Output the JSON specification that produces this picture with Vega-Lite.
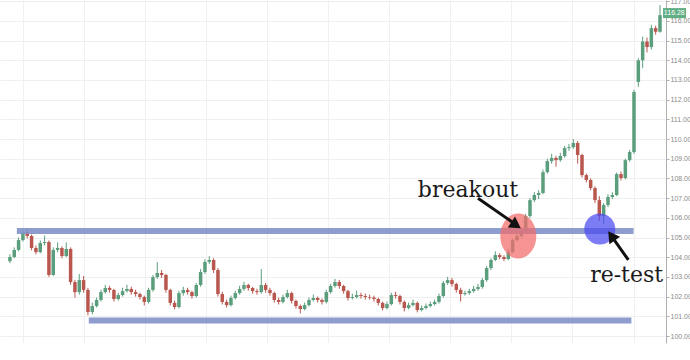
{
  "$schema": "https://vega.github.io/schema/vega-lite/v6.json",
  "width": 666,
  "height": 343,
  "autosize": {"type": "none"},
  "padding": {"left": 0, "top": 0, "right": 24, "bottom": 17},
  "background": "white",
  "config": {
    "view": {"stroke": null},
    "axisX": {"title": null, "labels": false, "ticks": false, "domain": false, "grid": true, "gridColor": "#f0f0f0"},
    "axisY": {"title": null, "labelOverlap": false, "labelFlush": false, "labelBound": false, "labelFontSize": 7, "labelColor": "#8a8a8a", "labelFont": "Liberation Sans", "labelPadding": 1, "tickSize": 3, "tickColor": "#b0b0b0", "domainColor": "#b0b0b0", "grid": true, "gridColor": "#efefef"}
  },
  "datasets": {
    "candles": [
      {"i":0,"o":103.80,"h":104.15,"l":103.70,"c":104.01},
      {"i":1,"o":104.01,"h":104.50,"l":103.95,"c":104.37},
      {"i":2,"o":104.37,"h":105.00,"l":104.30,"c":104.87},
      {"i":3,"o":104.87,"h":105.40,"l":104.80,"c":105.28},
      {"i":4,"o":105.28,"h":105.45,"l":104.95,"c":105.08},
      {"i":5,"o":105.08,"h":105.15,"l":104.35,"c":104.47},
      {"i":6,"o":104.47,"h":104.60,"l":104.15,"c":104.26},
      {"i":7,"o":104.26,"h":104.85,"l":104.20,"c":104.72},
      {"i":8,"o":104.72,"h":105.10,"l":104.60,"c":104.77},
      {"i":9,"o":104.77,"h":104.85,"l":103.00,"c":103.10},
      {"i":10,"o":103.10,"h":104.50,"l":103.05,"c":104.37},
      {"i":11,"o":104.37,"h":104.75,"l":104.25,"c":104.47},
      {"i":12,"o":104.47,"h":104.55,"l":103.95,"c":104.06},
      {"i":13,"o":104.06,"h":104.75,"l":104.00,"c":104.42},
      {"i":14,"o":104.42,"h":104.50,"l":102.60,"c":102.74},
      {"i":15,"o":102.74,"h":102.85,"l":101.95,"c":102.23},
      {"i":16,"o":102.23,"h":103.15,"l":102.10,"c":102.84},
      {"i":17,"o":102.84,"h":103.05,"l":102.20,"c":102.34},
      {"i":18,"o":102.34,"h":102.45,"l":101.05,"c":101.22},
      {"i":19,"o":101.22,"h":101.70,"l":101.10,"c":101.52},
      {"i":20,"o":101.52,"h":101.95,"l":101.45,"c":101.83},
      {"i":21,"o":101.83,"h":102.35,"l":101.75,"c":102.23},
      {"i":22,"o":102.23,"h":102.60,"l":102.15,"c":102.44},
      {"i":23,"o":102.44,"h":102.55,"l":102.20,"c":102.34},
      {"i":24,"o":102.34,"h":102.40,"l":101.75,"c":101.88},
      {"i":25,"o":101.88,"h":102.20,"l":101.80,"c":102.08},
      {"i":26,"o":102.08,"h":102.45,"l":102.00,"c":102.28},
      {"i":27,"o":102.28,"h":102.60,"l":102.20,"c":102.39},
      {"i":28,"o":102.39,"h":102.50,"l":102.10,"c":102.23},
      {"i":29,"o":102.23,"h":102.35,"l":102.00,"c":102.13},
      {"i":30,"o":102.13,"h":102.20,"l":101.85,"c":101.98},
      {"i":31,"o":101.98,"h":102.05,"l":101.55,"c":101.73},
      {"i":32,"o":101.73,"h":102.45,"l":101.65,"c":102.34},
      {"i":33,"o":102.34,"h":103.10,"l":102.25,"c":102.99},
      {"i":34,"o":102.99,"h":103.75,"l":102.90,"c":103.20},
      {"i":35,"o":103.20,"h":103.35,"l":102.95,"c":103.10},
      {"i":36,"o":103.10,"h":103.15,"l":102.20,"c":102.34},
      {"i":37,"o":102.34,"h":102.40,"l":101.55,"c":101.68},
      {"i":38,"o":101.68,"h":101.80,"l":101.35,"c":101.47},
      {"i":39,"o":101.47,"h":102.30,"l":101.40,"c":102.18},
      {"i":40,"o":102.18,"h":102.50,"l":102.05,"c":102.34},
      {"i":41,"o":102.34,"h":102.45,"l":102.10,"c":102.23},
      {"i":42,"o":102.23,"h":102.30,"l":101.90,"c":102.03},
      {"i":43,"o":102.03,"h":102.70,"l":101.95,"c":102.59},
      {"i":44,"o":102.59,"h":103.40,"l":102.50,"c":103.25},
      {"i":45,"o":103.25,"h":103.90,"l":103.15,"c":103.76},
      {"i":46,"o":103.76,"h":104.05,"l":103.65,"c":103.86},
      {"i":47,"o":103.86,"h":103.95,"l":103.20,"c":103.35},
      {"i":48,"o":103.35,"h":103.45,"l":102.00,"c":102.13},
      {"i":49,"o":102.13,"h":102.25,"l":101.60,"c":101.73},
      {"i":50,"o":101.73,"h":101.85,"l":101.45,"c":101.57},
      {"i":51,"o":101.57,"h":102.05,"l":101.50,"c":101.93},
      {"i":52,"o":101.93,"h":102.30,"l":101.85,"c":102.18},
      {"i":53,"o":102.18,"h":102.55,"l":102.10,"c":102.39},
      {"i":54,"o":102.39,"h":102.75,"l":102.30,"c":102.59},
      {"i":55,"o":102.59,"h":102.65,"l":102.30,"c":102.44},
      {"i":56,"o":102.44,"h":102.50,"l":102.15,"c":102.28},
      {"i":57,"o":102.28,"h":102.40,"l":102.10,"c":102.23},
      {"i":58,"o":102.23,"h":103.40,"l":102.15,"c":102.59},
      {"i":59,"o":102.59,"h":102.70,"l":102.20,"c":102.34},
      {"i":60,"o":102.34,"h":102.45,"l":102.05,"c":102.18},
      {"i":61,"o":102.18,"h":102.25,"l":101.70,"c":101.83},
      {"i":62,"o":101.83,"h":101.95,"l":101.60,"c":101.73},
      {"i":63,"o":101.73,"h":102.10,"l":101.65,"c":101.98},
      {"i":64,"o":101.98,"h":102.35,"l":101.90,"c":102.18},
      {"i":65,"o":102.18,"h":102.25,"l":101.65,"c":101.78},
      {"i":66,"o":101.78,"h":101.85,"l":101.40,"c":101.52},
      {"i":67,"o":101.52,"h":101.60,"l":101.15,"c":101.37},
      {"i":68,"o":101.37,"h":101.70,"l":101.30,"c":101.57},
      {"i":69,"o":101.57,"h":101.95,"l":101.50,"c":101.83},
      {"i":70,"o":101.83,"h":102.10,"l":101.75,"c":101.93},
      {"i":71,"o":101.93,"h":102.00,"l":101.70,"c":101.83},
      {"i":72,"o":101.83,"h":101.90,"l":101.60,"c":101.73},
      {"i":73,"o":101.73,"h":102.35,"l":101.65,"c":102.23},
      {"i":74,"o":102.23,"h":102.65,"l":102.15,"c":102.54},
      {"i":75,"o":102.54,"h":102.90,"l":102.45,"c":102.74},
      {"i":76,"o":102.74,"h":102.85,"l":102.40,"c":102.54},
      {"i":77,"o":102.54,"h":102.60,"l":102.15,"c":102.28},
      {"i":78,"o":102.28,"h":102.35,"l":101.80,"c":101.93},
      {"i":79,"o":101.93,"h":102.15,"l":101.85,"c":101.98},
      {"i":80,"o":101.98,"h":102.30,"l":101.90,"c":102.08},
      {"i":81,"o":102.08,"h":102.20,"l":101.90,"c":102.03},
      {"i":82,"o":102.03,"h":102.15,"l":101.85,"c":101.98},
      {"i":83,"o":101.98,"h":102.10,"l":101.85,"c":101.95},
      {"i":84,"o":101.95,"h":102.05,"l":101.75,"c":101.88},
      {"i":85,"o":101.88,"h":101.95,"l":101.55,"c":101.68},
      {"i":86,"o":101.68,"h":101.75,"l":101.30,"c":101.42},
      {"i":87,"o":101.42,"h":101.75,"l":101.35,"c":101.62},
      {"i":88,"o":101.62,"h":102.20,"l":101.55,"c":102.08},
      {"i":89,"o":102.08,"h":102.25,"l":101.90,"c":102.03},
      {"i":90,"o":102.03,"h":102.10,"l":101.60,"c":101.73},
      {"i":91,"o":101.73,"h":101.80,"l":101.25,"c":101.42},
      {"i":92,"o":101.42,"h":101.70,"l":101.35,"c":101.57},
      {"i":93,"o":101.57,"h":101.85,"l":101.50,"c":101.68},
      {"i":94,"o":101.68,"h":101.75,"l":101.20,"c":101.32},
      {"i":95,"o":101.32,"h":101.55,"l":101.25,"c":101.42},
      {"i":96,"o":101.42,"h":101.65,"l":101.35,"c":101.52},
      {"i":97,"o":101.52,"h":101.75,"l":101.45,"c":101.62},
      {"i":98,"o":101.62,"h":101.85,"l":101.55,"c":101.73},
      {"i":99,"o":101.73,"h":102.15,"l":101.65,"c":102.03},
      {"i":100,"o":102.03,"h":102.80,"l":101.95,"c":102.69},
      {"i":101,"o":102.69,"h":103.00,"l":102.60,"c":102.84},
      {"i":102,"o":102.84,"h":102.95,"l":102.50,"c":102.64},
      {"i":103,"o":102.64,"h":102.70,"l":102.20,"c":102.34},
      {"i":104,"o":102.34,"h":102.45,"l":101.75,"c":102.13},
      {"i":105,"o":102.13,"h":102.30,"l":102.05,"c":102.18},
      {"i":106,"o":102.18,"h":102.40,"l":102.10,"c":102.28},
      {"i":107,"o":102.28,"h":102.55,"l":102.20,"c":102.39},
      {"i":108,"o":102.39,"h":102.65,"l":102.30,"c":102.49},
      {"i":109,"o":102.49,"h":102.95,"l":102.40,"c":102.84},
      {"i":110,"o":102.84,"h":103.55,"l":102.75,"c":103.45},
      {"i":111,"o":103.45,"h":103.95,"l":103.35,"c":103.86},
      {"i":112,"o":103.86,"h":104.30,"l":103.80,"c":104.11},
      {"i":113,"o":104.11,"h":104.20,"l":103.90,"c":104.01},
      {"i":114,"o":104.01,"h":104.10,"l":103.80,"c":103.91},
      {"i":115,"o":103.91,"h":104.40,"l":103.85,"c":104.26},
      {"i":116,"o":104.26,"h":104.95,"l":104.20,"c":104.87},
      {"i":117,"o":104.87,"h":105.20,"l":104.80,"c":105.08},
      {"i":118,"o":105.08,"h":105.50,"l":105.00,"c":105.33},
      {"i":119,"o":105.33,"h":106.20,"l":105.25,"c":106.09},
      {"i":120,"o":106.09,"h":107.00,"l":106.00,"c":106.90},
      {"i":121,"o":106.90,"h":107.30,"l":106.80,"c":107.16},
      {"i":122,"o":107.16,"h":107.40,"l":106.95,"c":107.26},
      {"i":123,"o":107.26,"h":108.45,"l":107.20,"c":108.32},
      {"i":124,"o":108.32,"h":109.00,"l":108.25,"c":108.88},
      {"i":125,"o":108.88,"h":109.25,"l":108.75,"c":109.04},
      {"i":126,"o":109.04,"h":109.15,"l":108.60,"c":108.93},
      {"i":127,"o":108.93,"h":109.30,"l":108.85,"c":109.14},
      {"i":128,"o":109.14,"h":109.65,"l":109.05,"c":109.54},
      {"i":129,"o":109.54,"h":109.75,"l":109.40,"c":109.59},
      {"i":130,"o":109.59,"h":110.00,"l":109.50,"c":109.80},
      {"i":131,"o":109.80,"h":109.90,"l":108.75,"c":109.19},
      {"i":132,"o":109.19,"h":109.25,"l":108.05,"c":108.17},
      {"i":133,"o":108.17,"h":108.25,"l":107.80,"c":107.92},
      {"i":134,"o":107.92,"h":108.00,"l":107.40,"c":107.51},
      {"i":135,"o":107.51,"h":107.60,"l":106.75,"c":106.90},
      {"i":136,"o":106.90,"h":107.10,"l":105.85,"c":106.09},
      {"i":137,"o":106.09,"h":106.75,"l":105.70,"c":106.65},
      {"i":138,"o":106.65,"h":107.20,"l":106.55,"c":107.06},
      {"i":139,"o":107.06,"h":107.30,"l":106.95,"c":107.16},
      {"i":140,"o":107.16,"h":108.30,"l":107.10,"c":108.22},
      {"i":141,"o":108.22,"h":108.35,"l":107.90,"c":108.02},
      {"i":142,"o":108.02,"h":109.00,"l":107.95,"c":108.93},
      {"i":143,"o":108.93,"h":109.45,"l":108.85,"c":109.34},
      {"i":144,"o":109.34,"h":112.50,"l":109.25,"c":112.39},
      {"i":145,"o":112.90,"h":114.10,"l":112.65,"c":114.00},
      {"i":146,"o":114.00,"h":115.20,"l":113.60,"c":114.95},
      {"i":147,"o":114.95,"h":115.15,"l":114.40,"c":114.67},
      {"i":148,"o":114.67,"h":115.80,"l":114.55,"c":115.63},
      {"i":149,"o":115.63,"h":115.75,"l":115.30,"c":115.45},
      {"i":150,"o":115.45,"h":116.80,"l":115.40,"c":116.29}
    ],
    "bands": [
      {"x1": 1.6, "x2": 143.9, "p": 105.33},
      {"x1": 18.2, "x2": 143.4, "p": 100.79}
    ],
    "arrows": [
      {"x1": 108.0, "p1": 106.99, "x2": 116.8, "p2": 105.65},
      {"x1": 142.7, "p1": 103.86, "x2": 138.9, "p2": 105.05}
    ],
    "heads": [
      {"i": 116.8, "p": 105.63, "a": 123.5},
      {"i": 138.8, "p": 105.08, "a": 324.8}
    ],
    "labels": [
      {"i": 105.7, "p": 107.06, "t": "breakout"},
      {"i": 142.3, "p": 102.74, "t": "re-test"}
    ],
    "last": [
      {"x1": 150.7, "x2": 156.0, "p1": 116.14, "p2": 116.65, "xm": 153.3, "pm": 116.40, "t": "116.28"}
    ]
  },
  "layer": [
    {
      "data": {"name": "candles"},
      "mark": {"type": "rule", "strokeWidth": 1},
      "encoding": {
        "x": {
          "field": "i", "type": "quantitative",
          "scale": {"domain": [-1.136, 150.23], "nice": false, "zero": false},
          "axis": {"values": [2.95, 17.05, 31.1, 45.2, 59.3, 73.4, 87.5, 101.6, 115.7, 129.8, 143.9]}
        },
        "y": {
          "field": "l", "type": "quantitative",
          "scale": {"domain": [99.645, 117.06], "nice": false, "zero": false},
          "axis": {"orient": "right", "format": ".3f", "values": [100,101,102,103,104,105,106,107,108,109,110,111,112,113,114,115,116,117]}
        },
        "y2": {"field": "h"},
        "color": {"condition": {"test": "datum.c >= datum.o", "value": "#5b9e7d"}, "value": "#b9574e"}
      }
    },
    {
      "data": {"name": "candles"},
      "mark": {"type": "bar", "size": 3.5},
      "encoding": {
        "x": {"field": "i", "type": "quantitative", "axis": {"values": [2.95, 17.05, 31.1, 45.2, 59.3, 73.4, 87.5, 101.6, 115.7, 129.8, 143.9]}},
        "y": {"field": "o", "type": "quantitative", "axis": {"orient": "right", "format": ".3f", "values": [100,101,102,103,104,105,106,107,108,109,110,111,112,113,114,115,116,117]}},
        "y2": {"field": "c"},
        "color": {"condition": {"test": "datum.c >= datum.o", "value": "#5b9e7d"}, "value": "#b9574e"}
      }
    },
    {
      "data": {"name": "bands"},
      "mark": {"type": "rule", "strokeWidth": 6, "color": "#8292c9", "opacity": 0.9},
      "encoding": {
        "x": {"field": "x1", "type": "quantitative", "axis": {"values": [2.95, 17.05, 31.1, 45.2, 59.3, 73.4, 87.5, 101.6, 115.7, 129.8, 143.9]}},
        "x2": {"field": "x2"},
        "y": {"field": "p", "type": "quantitative", "axis": {"orient": "right", "format": ".3f", "values": [100,101,102,103,104,105,106,107,108,109,110,111,112,113,114,115,116,117]}}
      }
    },
    {
      "data": {"values": [{"i": 117.3, "p": 105.08}]},
      "mark": {"type": "point", "filled": true, "shape": "M-0.8,0A0.8,1 0 1,0 0.8,0A0.8,1 0 1,0 -0.8,0Z", "size": 2025, "color": "#f26b6b", "opacity": 0.72},
      "encoding": {
        "x": {"field": "i", "type": "quantitative", "axis": {"values": [2.95, 17.05, 31.1, 45.2, 59.3, 73.4, 87.5, 101.6, 115.7, 129.8, 143.9]}},
        "y": {"field": "p", "type": "quantitative", "axis": {"orient": "right", "format": ".3f", "values": [100,101,102,103,104,105,106,107,108,109,110,111,112,113,114,115,116,117]}}
      }
    },
    {
      "data": {"values": [{"i": 136.1, "p": 105.43}]},
      "mark": {"type": "point", "filled": true, "shape": "circle", "size": 962, "color": "#4a4af0", "opacity": 0.72},
      "encoding": {
        "x": {"field": "i", "type": "quantitative", "axis": {"values": [2.95, 17.05, 31.1, 45.2, 59.3, 73.4, 87.5, 101.6, 115.7, 129.8, 143.9]}},
        "y": {"field": "p", "type": "quantitative", "axis": {"orient": "right", "format": ".3f", "values": [100,101,102,103,104,105,106,107,108,109,110,111,112,113,114,115,116,117]}}
      }
    },
    {
      "data": {"name": "arrows"},
      "mark": {"type": "rule", "strokeWidth": 3, "color": "#111111"},
      "encoding": {
        "x": {"field": "x1", "type": "quantitative", "axis": {"values": [2.95, 17.05, 31.1, 45.2, 59.3, 73.4, 87.5, 101.6, 115.7, 129.8, 143.9]}},
        "y": {"field": "p1", "type": "quantitative", "axis": {"orient": "right", "format": ".3f", "values": [100,101,102,103,104,105,106,107,108,109,110,111,112,113,114,115,116,117]}},
        "x2": {"field": "x2"},
        "y2": {"field": "p2"}
      }
    },
    {
      "data": {"name": "heads"},
      "mark": {"type": "point", "filled": true, "shape": "triangle-up", "size": 170, "color": "#111111", "opacity": 1},
      "encoding": {
        "x": {"field": "i", "type": "quantitative", "axis": {"values": [2.95, 17.05, 31.1, 45.2, 59.3, 73.4, 87.5, 101.6, 115.7, 129.8, 143.9]}},
        "y": {"field": "p", "type": "quantitative", "axis": {"orient": "right", "format": ".3f", "values": [100,101,102,103,104,105,106,107,108,109,110,111,112,113,114,115,116,117]}},
        "angle": {"field": "a", "type": "quantitative", "scale": null}
      }
    },
    {
      "data": {"name": "labels"},
      "mark": {"type": "text", "font": "DejaVu Serif", "fontSize": 22, "color": "#1a1a1a", "align": "center", "baseline": "alphabetic"},
      "encoding": {
        "x": {"field": "i", "type": "quantitative", "axis": {"values": [2.95, 17.05, 31.1, 45.2, 59.3, 73.4, 87.5, 101.6, 115.7, 129.8, 143.9]}},
        "y": {"field": "p", "type": "quantitative", "axis": {"orient": "right", "format": ".3f", "values": [100,101,102,103,104,105,106,107,108,109,110,111,112,113,114,115,116,117]}},
        "text": {"field": "t"}
      }
    },
    {
      "data": {"name": "last"},
      "mark": {"type": "rect", "color": "#5fae84"},
      "encoding": {
        "x": {"field": "x1", "type": "quantitative", "axis": {"values": [2.95, 17.05, 31.1, 45.2, 59.3, 73.4, 87.5, 101.6, 115.7, 129.8, 143.9]}},
        "x2": {"field": "x2"},
        "y": {"field": "p1", "type": "quantitative", "axis": {"orient": "right", "format": ".3f", "values": [100,101,102,103,104,105,106,107,108,109,110,111,112,113,114,115,116,117]}},
        "y2": {"field": "p2"}
      }
    },
    {
      "data": {"name": "last"},
      "mark": {"type": "text", "fontSize": 7, "color": "white", "align": "center", "baseline": "middle", "font": "Liberation Sans"},
      "encoding": {
        "x": {"field": "xm", "type": "quantitative", "axis": {"values": [2.95, 17.05, 31.1, 45.2, 59.3, 73.4, 87.5, 101.6, 115.7, 129.8, 143.9]}},
        "y": {"field": "pm", "type": "quantitative", "axis": {"orient": "right", "format": ".3f", "values": [100,101,102,103,104,105,106,107,108,109,110,111,112,113,114,115,116,117]}},
        "text": {"field": "t"}
      }
    }
  ]
}
